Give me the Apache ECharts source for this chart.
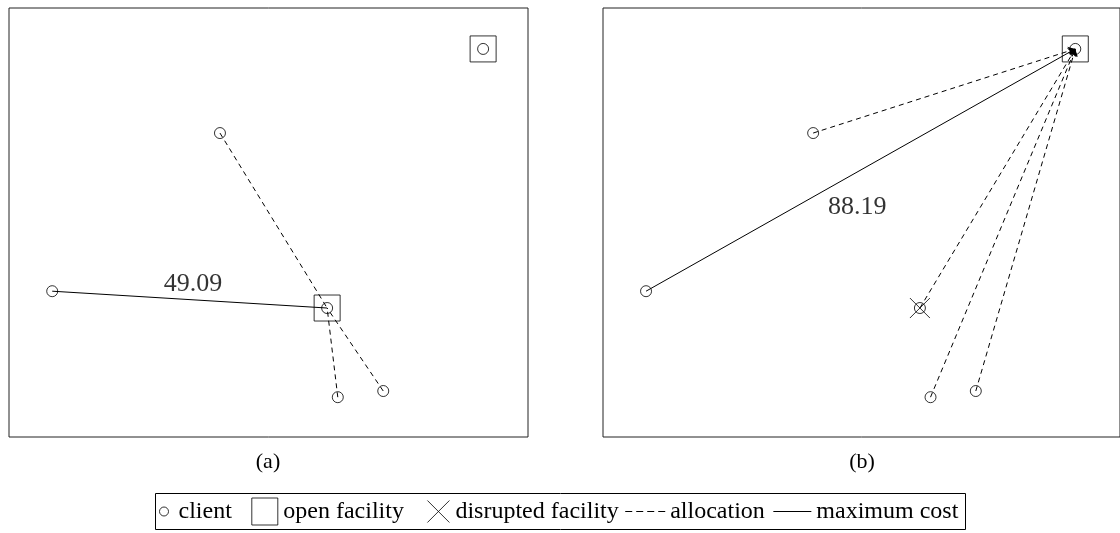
<!DOCTYPE html>
<html>
<head>
<meta charset="utf-8">
<script src="https://cdn.jsdelivr.net/npm/echarts@6/dist/echarts.min.js"></script>
<style>
  html, body { margin: 0; padding: 0; background: #fff; }
  #chart { width: 1120px; height: 533px; }
</style>
</head>
<body>
<div id="chart"></div>
<script>
// client locations (same in both panels), in distance units
const clientX = [37.6, 7.7, 56.7, 58.6, 66.7, 84.5];
const clientY = [54.2, 26.0, 23.0, 7.1, 8.2, 69.2];

// panel (a): open facilities and client allocation
const openA = [2, 5];
const assignA = [2, 2, 2, 2, 2, 5];
const worstA = 1;
const costA = '49.09';
const costPosA = [32.8, 27.3];

// panel (b): facility 2 is disrupted, everything goes to facility 5
const openB = [5];
const disruptedB = [2];
const assignB = [5, 5, 5, 5, 5, 5];
const worstB = 1;
const costB = '88.19';
const costPosB = [45.5, 41.0];

const captions = ['(a)', '(b)'];
const legendNames = ['client', 'open facility', 'disrupted facility', 'allocation', 'maximum cost'];

const FONT = 'Liberation Serif';
const hollow = { color: 'rgba(0,0,0,0)', borderColor: '#000', borderWidth: 1 };

function pt(i) {
  return [clientX[i], clientY[i]];
}

// build all series of one panel
function panelSeries(idx, open, disrupted, assign, worst, cost, costPos, arrow) {
  const dashed = [];
  const solid = [];
  assign.forEach((f, c) => {
    if (f === c) return;
    const seg = { coords: [pt(c), pt(f)] };
    if (c === worst) solid.push(seg); else dashed.push(seg);
  });
  const common = { xAxisIndex: idx, yAxisIndex: idx, silent: true, animation: false };
  const arrowSym = arrow ? ['none', 'arrow'] : ['none', 'none'];
  const list = [
    Object.assign({
      name: 'allocation', type: 'lines', coordinateSystem: 'cartesian2d',
      symbol: arrowSym, symbolSize: 7,
      lineStyle: { color: '#000', width: 1, type: [5, 4], opacity: 1, curveness: 0 },
      data: dashed
    }, common),
    Object.assign({
      name: 'maximum cost', type: 'lines', coordinateSystem: 'cartesian2d',
      symbol: arrowSym, symbolSize: 7,
      lineStyle: { color: '#000', width: 1, type: 'solid', opacity: 1, curveness: 0 },
      data: solid
    }, common),
    Object.assign({
      name: 'client', type: 'scatter', symbol: 'circle', symbolSize: 11,
      itemStyle: hollow, z: 3,
      data: clientX.map((x, i) => [x, clientY[i]])
    }, common),
    Object.assign({
      name: 'open facility', type: 'scatter', symbol: 'rect', symbolSize: 26,
      itemStyle: hollow, z: 3,
      data: open.map(pt)
    }, common),
    Object.assign({
      name: 'cost label', type: 'scatter', symbolSize: 1,
      itemStyle: { color: 'rgba(0,0,0,0)' },
      label: {
        show: true, position: 'inside', formatter: cost,
        fontFamily: FONT, fontSize: 26, color: '#000'
      },
      data: [costPos]
    }, common)
  ];
  if (disrupted.length) {
    list.push(Object.assign({
      name: 'disrupted facility', type: 'scatter',
      symbol: 'path://M0,0L20,20M20,0L0,20', symbolSize: 20,
      itemStyle: { color: 'rgba(0,0,0,0)', borderColor: '#000', borderWidth: 1 }, z: 3,
      data: disrupted.map(pt)
    }, common));
  }
  return list;
}

const axisX = { type: 'value', min: 0, max: 92.5, show: false };
const axisY = { type: 'value', min: 0, max: 76.5, show: false };
const frame = { show: true, borderColor: '#222', borderWidth: 1, backgroundColor: 'transparent' };

// legend icons, 40x28 boxes with the mark pushed to the right
const icons = [
  'path://M0,0M40,28M26,14a4.5,4.5 0 1,0 9,0a4.5,4.5 0 1,0 -9,0',
  'path://M0,0M40,28M13.5,0.5L39.5,0.5L39.5,27.5L13.5,27.5Z',
  'path://M0,0M40,28M17,3L39,25M39,3L17,25',
  'path://M0,0M40,28M0,14L7,14M11,14L18,14M22,14L29,14M33,14L40,14',
  'path://M0,0M40,28M2,14L40,14'
];

const chart = echarts.init(document.getElementById('chart'), null, { renderer: 'canvas' });
chart.setOption({
  backgroundColor: '#fff',
  animation: false,
  grid: [
    Object.assign({ left: 9, top: 8, width: 519, height: 429 }, frame),
    Object.assign({ left: 603, top: 8, width: 519, height: 429 }, frame)
  ],
  xAxis: [Object.assign({ gridIndex: 0 }, axisX), Object.assign({ gridIndex: 1 }, axisX)],
  yAxis: [Object.assign({ gridIndex: 0 }, axisY), Object.assign({ gridIndex: 1 }, axisY)],
  legend: {
    left: 133, top: 497,
    padding: 0,
    itemWidth: 40, itemHeight: 28, itemGap: 6,
    selectedMode: false,
    textStyle: { fontFamily: FONT, fontSize: 24, color: '#000' },
    data: legendNames.map((name, i) => ({
      name: name,
      icon: icons[i],
      itemStyle: { color: 'rgba(0,0,0,0)', borderColor: '#000', borderWidth: 1 }
    }))
  },
  graphic: [
    // frame round the legend
    {
      type: 'rect', silent: true,
      shape: { x: 155.5, y: 493.5, width: 810, height: 36 },
      style: { fill: 'none', stroke: '#000', lineWidth: 1 }
    }
  ].concat(captions.map((t, i) => ({
    type: 'text',
    x: i === 0 ? 268 : 862,
    y: 462,
    style: {
      text: t, fill: '#000', font: '22px "' + FONT + '"',
      align: 'center', verticalAlign: 'middle',
      textAlign: 'center', textVerticalAlign: 'middle'
    }
  }))),
  series: [].concat(
    panelSeries(0, openA, [], assignA, worstA, costA, costPosA, false),
    panelSeries(1, openB, disruptedB, assignB, worstB, costB, costPosB, true)
  )
});
</script>
</body>
</html>
